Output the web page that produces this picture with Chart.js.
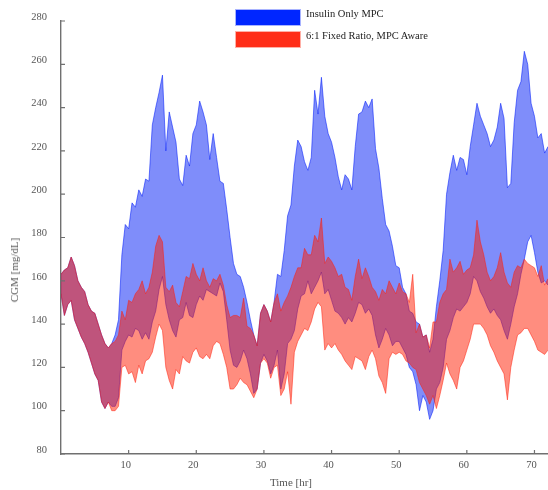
<!DOCTYPE html>
<html>
<head>
<meta charset="utf-8">
<script src="https://cdn.jsdelivr.net/npm/chart.js@4.4.1/dist/chart.umd.min.js"></script>
<style>
html, body { margin: 0; padding: 0; background: #fff; }
#wrap { position: relative; width: 548px; height: 490px; overflow: hidden; }
.swatch { position: absolute; left: 235px; width: 66px; height: 17px; box-sizing: border-box; }
.txt { position: absolute; font-family: 'Liberation Serif', 'Times New Roman', serif; font-size: 10.5px; line-height: 12px; white-space: nowrap; }
</style>
</head>
<body>
<div id="wrap">
  <canvas id="cgmChart" width="548" height="490"></canvas>
  <div class="swatch" style="top:9px; background:#0026ff; border:1px solid #a9b4ff;"></div>
  <div class="txt" style="left:306px; top:8px; color:#222;">Insulin Only MPC</div>
  <div class="swatch" style="top:31px; background:#ff2e18; border:1px solid #ffb0a6;"></div>
  <div class="txt" style="left:306px; top:30px; color:#222;">6:1 Fixed Ratio, MPC Aware</div>
  <div class="txt" style="left:291px; top:476px; transform:translateX(-50%); color:#555; font-size:11px;">Time [hr]</div>
  <div class="txt" style="left:14px; top:270px; transform:translate(-50%,-50%) rotate(-90deg); color:#555; font-size:11px;">CGM [mg/dL]</div>
</div>
<script>
// envelopes, one value every half hour from 0 to 72 hr
var blueHi = [163,165,166,171,167,160,157,155,149,146, 145,140,135,131,129,131,135,142,172,186,
  184,196,194,202,199,207,206,232,240,247, 255,220,238,231,224,207,204,218,213,228,
  232,243,238,232,216,228,217,206,205,193, 180,168,163,162,157,150,142,135,130,145,
  149,146,141,150,163,162,174,190,195,213, 225,222,215,211,217,248,237,254,236,228,
  224,217,208,202,209,207,202,222,237,238, 243,240,244,221,212,198,186,183,176,167,
  166,157,154,146,145,141,140,134,135,127, 133,148,160,174,
  200,210,218,211,217,216,209,222,232,242, 236,232,228,222,225,231,242,235,203,205,
  233,248,252,266,260,242,236,226,228,219, 222];
var blueLo = [154,144,149,151,142,138,134,131,127,122, 117,114,104,101,104,102,102,106,128,132,
  135,134,138,137,133,136,133,141,146,156, 162,149,142,137,134,142,143,150,144,143,
  149,153,151,156,155,154,153,159,155,142, 128,121,120,123,128,124,117,108,110,122,
  126,123,117,121,128,110,117,131,133,137, 147,153,154,160,154,157,160,164,154,156,
  151,146,145,143,140,143,141,145,150,149, 145,147,144,135,129,133,138,135,130,132,
  132,129,126,120,118,112,100,107,104,96, 100,110,113,120,
  133,137,143,147,146,148,150,154,162,160, 155,152,148,145,147,144,142,137,133,140,
  148,154,163,170,178,181,173,164,159,160, 158];
var redHi = [163,165,166,171,167,160,157,155,149,146, 145,140,135,131,129,131,132,135,146,142,
  151,150,154,156,160,154,157,164,176,181, 178,157,155,158,150,148,155,162,161,168,
  163,160,166,160,157,161,160,163,158,149, 143,144,144,143,152,139,138,135,130,145,
  149,146,141,150,154,146,150,153,157,162, 166,166,175,172,172,181,178,189,168,171,
  169,166,162,163,157,156,151,162,170,161, 166,162,157,155,151,156,154,160,157,154,
  159,155,154,150,163,136,140,134,135,129, 141,141,150,154,
  156,170,164,166,169,163,165,166,172,188, 178,172,164,160,162,166,173,164,159,157,
  164,167,166,170,168,167,166,162,167,158, 161];
var redLo = [154,144,149,151,142,138,134,131,127,122, 117,114,104,101,104,100,100,102,120,121,
  117,118,113,121,117,123,124,127,134,140, 137,120,114,110,119,117,125,123,122,127,
  129,125,124,126,124,130,132,131,126,120, 110,110,112,115,113,112,109,106,110,122,
  124,122,115,120,121,107,110,118,103,127, 132,135,138,137,141,147,150,148,128,131,
  129,131,128,126,123,121,119,125,124,123, 119,125,128,124,116,113,108,124,127,126,
  127,126,123,122,120,119,113,110,107,103, 107,101,107,114,
  122,117,114,110,120,123,128,133,140,140, 140,138,135,130,127,123,120,117,105,120,
  128,135,136,138,138,135,132,128,127,126, 128];

var hours = blueHi.map(function (v, i) { return i * 0.5; });
var xTicks = [10, 20, 30, 40, 50, 60, 70];
var yTicks = [80, 100, 120, 140, 160, 180, 200, 220, 240, 260, 280];

var axisColor = '#707070';
var labelColor = '#555';
var serif = "'Liberation Serif', 'Times New Roman', serif";

function toPoints(values) {
    return values.map(function (v, i) { return { x: hours[i], y: v }; });
}

// Mathematica-style ticks pointing into the plot
var innerTicks = {
    id: 'innerTicks',
    afterDraw: function (chart) {
        var ctx = chart.ctx, a = chart.chartArea;
        var x = chart.scales.x, y = chart.scales.y;
        ctx.save();
        ctx.strokeStyle = axisColor;
        ctx.lineWidth = 1.2;
        ctx.beginPath();
        xTicks.forEach(function (t) {
            var px = x.getPixelForValue(t);
            ctx.moveTo(px, a.bottom);
            ctx.lineTo(px, a.bottom - 4);
        });
        yTicks.forEach(function (t) {
            var py = y.getPixelForValue(t);
            ctx.moveTo(a.left, py);
            ctx.lineTo(a.left + 4, py);
        });
        ctx.stroke();
        ctx.restore();
    }
};

new Chart(document.getElementById('cgmChart'), {
    type: 'line',
    data: {
        datasets: [
            { label: 'Insulin Only MPC low', data: toPoints(blueLo), borderColor: 'rgba(0,30,250,0.55)', borderWidth: 1, fill: false, order: 2 },
            { label: 'Insulin Only MPC', data: toPoints(blueHi), borderColor: 'rgba(0,30,250,0.55)', borderWidth: 1,
              backgroundColor: 'rgba(0,28,245,0.5)', fill: { target: 0 }, order: 2 },
            { label: '6:1 Fixed Ratio low', data: toPoints(redLo), borderColor: 'rgba(255,30,10,0.5)', borderWidth: 1, fill: false, order: 1 },
            { label: '6:1 Fixed Ratio, MPC Aware', data: toPoints(redHi), borderColor: 'rgba(255,30,10,0.5)', borderWidth: 1,
              backgroundColor: 'rgba(255,28,0,0.5)', fill: { target: 2 }, order: 1 }
        ]
    },
    options: {
        responsive: false,
        animation: false,
        devicePixelRatio: 1,
        layout: { padding: { top: 21, right: 0, left: 0, bottom: 0 } },
        elements: { line: { tension: 0 }, point: { radius: 0 } },
        plugins: { legend: { display: false }, tooltip: { enabled: false } },
        scales: {
            x: {
                type: 'linear', min: 0, max: 72,
                grid: { display: false, drawTicks: false },
                border: { display: true, color: axisColor, width: 1.4 },
                afterBuildTicks: function (s) { s.ticks = xTicks.map(function (v) { return { value: v }; }); },
                ticks: { color: labelColor, font: { family: serif, size: 10.5 }, padding: 5, labelOffset: -3, maxRotation: 0 },
                afterFit: function (s) { s.height = 36; }
            },
            y: {
                min: 80, max: 280,
                grid: { display: false, drawTicks: false },
                border: { display: true, color: axisColor, width: 1.4 },
                afterBuildTicks: function (s) { s.ticks = yTicks.map(function (v) { return { value: v }; }); },
                ticks: { color: labelColor, font: { family: serif, size: 10.5 }, padding: 14, labelOffset: -4 },
                afterFit: function (s) { s.width = 61; }
            }
        }
    },
    plugins: [innerTicks]
});
</script>
</body>
</html>
